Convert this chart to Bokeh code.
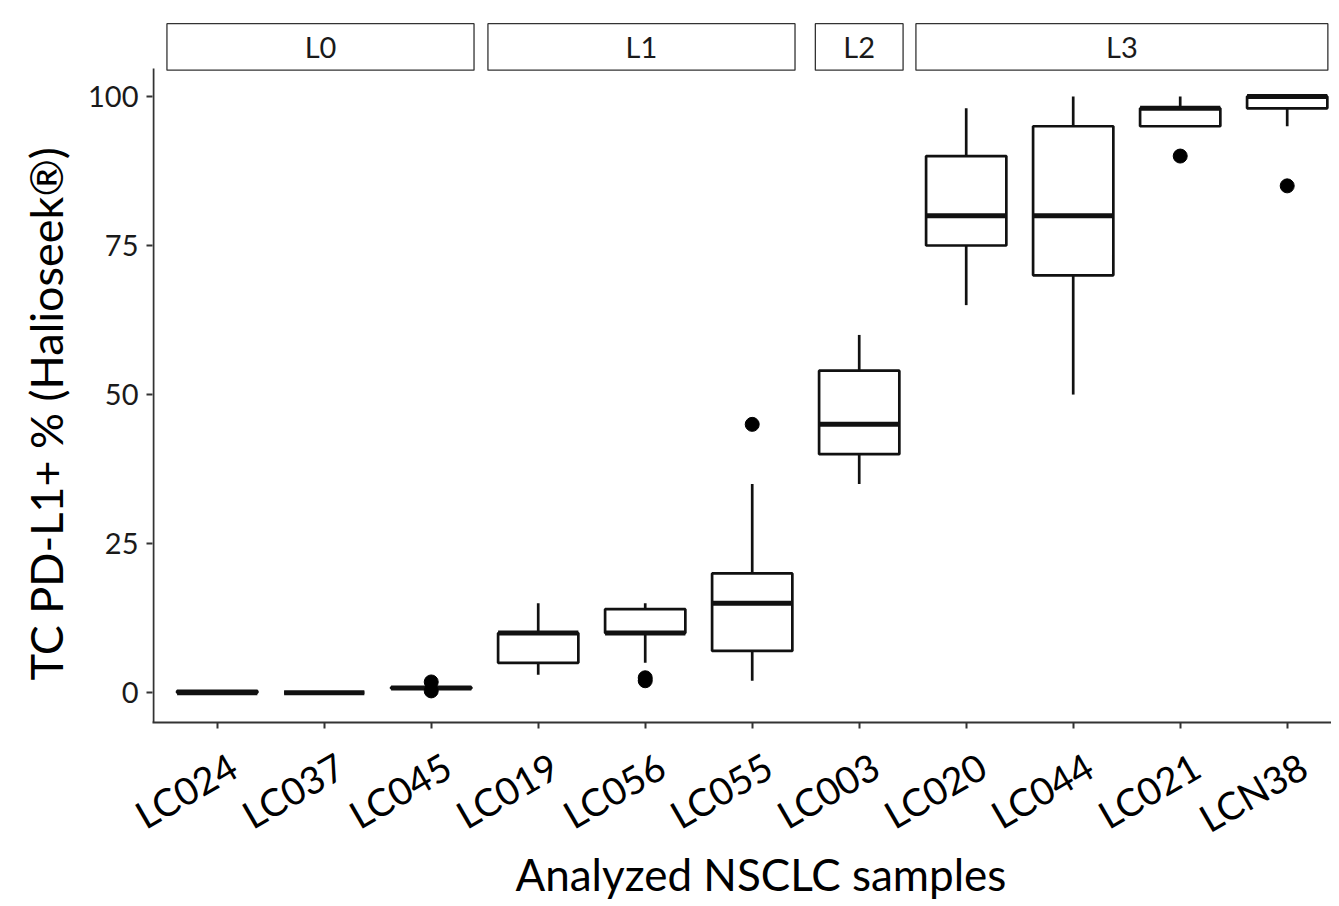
import math
from bokeh.plotting import figure
from bokeh.models import Range1d, FixedTicker, ColumnDataSource, Title
from bokeh.core.properties import value
from bokeh.embed import file_html
from bokeh.resources import INLINE

# ---- data ----
samples = ["LC024", "LC037", "LC045", "LC019", "LC056", "LC055",
           "LC003", "LC020", "LC044", "LC021", "LCN38"]
groups = ["L0", "L0", "L0", "L1", "L1", "L1", "L2", "L3", "L3", "L3", "L3"]
lower_whisker = [0, 0, 0.7, 3, 5, 2, 35, 65, 50, 95, 95]
q1 = [0, 0, 0.7, 5, 10, 7, 40, 75, 70, 95, 98]
median = [0, 0, 0.8, 10, 10, 15, 45, 80, 80, 98, 100]
q3 = [0.3, 0, 0.9, 10, 14, 20, 54, 90, 95, 98, 100]
upper_whisker = [0.3, 0, 0.9, 15, 15, 35, 60, 98, 100, 100, 100]
outlier_sample = ["LC045", "LC045", "LC056", "LC056", "LC055", "LC021", "LCN38"]
outlier_value = [0.3, 1.8, 2.0, 2.5, 45, 90, 85]
y_ticks = [0, 25, 50, 75, 100]
group_names = ["L0", "L1", "L2", "L3"]

FONT = "Lato"
BOX_W = 0.75
LABEL_SHIFT = 0.15

xpos = list(range(len(samples)))
idx = {s: i for i, s in enumerate(samples)}

p = figure(width=1331, height=906, output_backend="svg", toolbar_location=None,
           x_range=Range1d(-0.605, 10.414), y_range=Range1d(-5, 112.4),
           min_border_left=152, min_border_right=0, min_border_top=22,
           min_border_bottom=184)
p.background_fill_color = "white"
p.border_fill_color = "white"
p.outline_line_color = None
p.grid.visible = False

src = ColumnDataSource(dict(
    x=xpos,
    left=[x - BOX_W / 2 for x in xpos],
    right=[x + BOX_W / 2 for x in xpos],
    lw=lower_whisker, q1=q1, med=median, q3=q3, uw=upper_whisker,
))

LINE = "#111111"
# whiskers
p.segment(x0="x", y0="lw", x1="x", y1="q1", source=src, line_color=LINE, line_width=2.7)
p.segment(x0="x", y0="q3", x1="x", y1="uw", source=src, line_color=LINE, line_width=2.7)
# boxes
p.quad(left="left", right="right", bottom="q1", top="q3", source=src,
       fill_color="white", line_color=LINE, line_width=2.7)
# medians
p.segment(x0="left", y0="med", x1="right", y1="med", source=src,
          line_color=LINE, line_width=5)
# outliers
p.scatter(x=[idx[s] for s in outlier_sample], y=outlier_value, size=14,
          fill_color="black", line_color="black")

# facet strips
pad_l, pad_r = 0.47, 0.40
s_left, s_right, s_mid = [], [], []
for g in group_names:
    members = [i for i, gg in enumerate(groups) if gg == g]
    a = min(members) - pad_l
    b = min(max(members) + pad_r, 10.38)
    if len(members) == 1:
        a = members[0] - 0.41
        b = members[0] + 0.41
    s_left.append(a)
    s_right.append(b)
    s_mid.append((a + b) / 2)
p.quad(left=s_left, right=s_right, bottom=104.4, top=112.2,
       fill_color="white", line_color="#333333", line_width=1.3)
p.text(x=s_mid, y=[108.3] * len(s_mid), text=group_names,
       text_font=value(FONT), text_font_size="29px", text_color="#1a1a1a",
       text_align="center", text_baseline="middle")

# manual left axis line (stops below the strips)
p.segment(x0=[-0.596], y0=[-5], x1=[-0.596], y1=[104.7],
          line_color="#333333", line_width=2)

# y axis
p.yaxis.ticker = FixedTicker(ticks=y_ticks)
p.yaxis.axis_line_color = None
p.yaxis.major_tick_line_color = "#333333"
p.yaxis.major_tick_line_width = 2
p.yaxis.major_tick_out = 6
p.yaxis.major_tick_in = 0
p.yaxis.minor_tick_line_color = None
p.yaxis.major_label_text_font = FONT
p.yaxis.major_label_text_font_size = "29px"
p.yaxis.major_label_text_color = "#1a1a1a"
p.yaxis.major_label_standoff = 8

# x axis: tick marks at the samples (minor ticks), labels slightly offset (major)
lab_ticks = [x + LABEL_SHIFT for x in xpos]
p.xaxis.ticker = FixedTicker(ticks=lab_ticks, minor_ticks=xpos)
p.xaxis.major_label_overrides = {t: s for t, s in zip(lab_ticks, samples)}
p.xaxis.axis_line_color = "#333333"
p.xaxis.axis_line_width = 2
p.xaxis.major_tick_line_color = None
p.xaxis.major_tick_out = 6
p.xaxis.major_tick_in = 0
p.xaxis.minor_tick_line_color = "#333333"
p.xaxis.minor_tick_line_width = 2
p.xaxis.minor_tick_out = 6
p.xaxis.minor_tick_in = 0
p.xaxis.major_label_orientation = math.radians(30)
p.xaxis.major_label_text_font = FONT
p.xaxis.major_label_text_font_size = "38px"
p.xaxis.major_label_text_color = "black"
p.xaxis.major_label_standoff = 34

# axis titles
p.add_layout(Title(text="Analyzed NSCLC samples", align="left", offset=363,
                   text_font=FONT, text_font_size="44px", text_font_style="normal",
                   text_color="black", standoff=-36), "below")
p.add_layout(Title(text="TC PD-L1+ % (Halioseek®)", align="left", offset=42,
                   text_font=FONT, text_font_size="45px", text_font_style="normal",
                   text_color="black", standoff=26), "left")

open("out.html", "w").write(file_html(p, INLINE))
